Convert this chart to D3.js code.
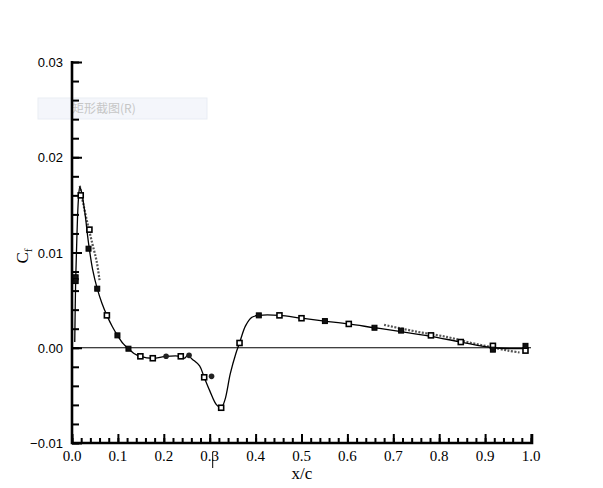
<!DOCTYPE html>
<html>
<head>
<meta charset="utf-8">
<script src="https://cdn.jsdelivr.net/npm/d3@7"></script>
<style>
  body { margin: 0; background: #fff; }
  svg { display: block; }
</style>
</head>
<body>
<div id="chart"></div>
<script>
// skin friction along the chord
var xCurve = [0.006, 0.008, 0.011, 0.014, 0.017, 0.021, 0.028, 0.036, 0.045, 0.055, 0.065, 0.076, 0.088, 0.099,
  0.112, 0.123, 0.135, 0.149, 0.176, 0.205, 0.237, 0.245, 0.252, 0.262, 0.278, 0.288, 0.300, 0.315, 0.325,
  0.333, 0.345, 0.357, 0.365, 0.378, 0.392, 0.407, 0.452, 0.500, 0.551, 0.603, 0.659, 0.717, 0.782, 0.847,
  0.917, 0.988];
var cfCurve = [0.0006, 0.0071, 0.0122, 0.0156, 0.0169, 0.0163, 0.0142, 0.0110, 0.0082, 0.0062, 0.0047, 0.0034, 0.0022, 0.0013,
  0.0004, -0.0001, -0.0006, -0.0009, -0.0011, -0.0009, -0.0009, -0.0011, -0.0008, -0.0012, -0.0019, -0.0031, -0.0045, -0.0060, -0.0063,
  -0.0055, -0.0027, -0.0006, 0.0005, 0.0023, 0.0032, 0.0034, 0.0034, 0.0031, 0.0028, 0.0025, 0.0021, 0.0017, 0.0012, 0.0006,
  0.0000, -0.0001];

// second run, drawn dashed where it separates from the first
var xDashLE = [0.017, 0.025, 0.035, 0.045, 0.054, 0.060];
var cfDashLE = [0.0170, 0.0150, 0.0128, 0.0108, 0.0090, 0.0071];
var xDashTE = [0.680, 0.750, 0.820, 0.870, 0.910, 0.950, 0.975];
var cfDashTE = [0.0024, 0.0017, 0.0011, 0.0005, 0.0001, -0.0003, -0.0005];

var xOpenSq = [0.019, 0.038, 0.076, 0.149, 0.176, 0.237, 0.288, 0.325, 0.365, 0.452, 0.500, 0.603, 0.782, 0.847, 0.917, 0.988];
var cfOpenSq = [0.0160, 0.0124, 0.0034, -0.0009, -0.0011, -0.0009, -0.0031, -0.0063, 0.0005, 0.0034, 0.0031, 0.0025, 0.0013, 0.0006, 0.0002, -0.0003];
var xFillSq = [0.008, 0.008, 0.036, 0.055, 0.099, 0.123, 0.407, 0.551, 0.659, 0.717, 0.917, 0.988];
var cfFillSq = [0.0074, 0.0070, 0.0104, 0.0062, 0.0013, -0.0001, 0.0034, 0.0028, 0.0021, 0.0018, -0.0002, 0.0002];
var xDot = [0.205, 0.255, 0.304];
var cfDot = [-0.0009, -0.0008, -0.0030];

var xTicks = [0, 0.1, 0.2, 0.3, 0.4, 0.5, 0.6, 0.7, 0.8, 0.9, 1.0];
var yTicks = [-0.01, 0, 0.01, 0.02, 0.03];

var width = 603,
    height = 488,
    plotL = 72, plotR = 531, plotT = 62, plotB = 443;

var x = d3.scaleLinear().domain([0, 1]).range([plotL, plotR]);
var y = d3.scaleLinear().domain([-0.01, 0.03]).range([plotB, plotT]);

var svg = d3.select('#chart').append('svg')
    .attr('width', width)
    .attr('height', height);

function pairs(xs, ys) {
    return xs.map(function (v, i) { return [v, ys[i]]; });
}

// leftover screen-capture tooltip
svg.append('rect')
    .attr('x', 38).attr('y', 98).attr('width', 169).attr('height', 21)
    .attr('fill', '#f4f6fb').attr('stroke', '#e9edf4');
svg.append('text')
    .attr('x', 72).attr('y', 113)
    .attr('font-family', 'Noto Sans CJK SC')
    .attr('font-size', 12)
    .attr('fill', '#c6c6c6')
    .text('矩形截图(R)');

// zero line
svg.append('line')
    .attr('x1', x(0)).attr('x2', x(1))
    .attr('y1', y(0)).attr('y2', y(0))
    .attr('stroke', '#000').attr('stroke-width', 1.2);

function thickTicks(g) {
    g.selectAll('.tick line').attr('stroke-width', 2);
    g.select('.domain').remove();
}

// axes, ticks pointing inward
svg.append('g').attr('transform', 'translate(0,' + plotB + ')')
    .call(d3.axisTop(x).ticks(50).tickSize(5).tickFormat(''))
    .call(thickTicks);
svg.append('g').attr('transform', 'translate(0,' + plotB + ')')
    .call(d3.axisTop(x).tickValues(xTicks).tickSize(9).tickFormat(''))
    .call(thickTicks);
svg.selectAll('.xlab').data(xTicks).enter().append('text')
    .attr('class', 'xlab')
    .attr('x', function (d) { return x(d); })
    .attr('y', 461)
    .attr('text-anchor', 'middle')
    .attr('font-family', 'Liberation Serif')
    .attr('font-size', 15)
    .text(function (d) { return d3.format('.1f')(d); });

svg.append('g').attr('transform', 'translate(' + plotL + ',0)')
    .call(d3.axisRight(y).ticks(20).tickSize(7).tickFormat(''))
    .call(thickTicks);
svg.append('g').attr('transform', 'translate(' + plotL + ',0)')
    .call(d3.axisRight(y).tickValues(yTicks).tickSize(10).tickFormat(''))
    .call(thickTicks);
svg.selectAll('.ylab').data(yTicks).enter().append('text')
    .attr('class', 'ylab')
    .attr('x', 63)
    .attr('y', function (d) { return y(d) + 5; })
    .attr('text-anchor', 'end')
    .attr('font-family', 'Liberation Sans')
    .attr('font-size', 13)
    .text(function (d) { return d3.format('.2f')(d); });

svg.append('path')
    .attr('d', 'M' + plotL + ',' + (plotT - 1) + 'V' + plotB + 'H' + (plotR + 1) + 'V' + (plotB - 9))
    .attr('fill', 'none').attr('stroke', '#000').attr('stroke-width', 2.6);

// axis titles
svg.append('text')
    .attr('x', 302).attr('y', 479)
    .attr('text-anchor', 'middle')
    .attr('font-family', 'Liberation Serif')
    .attr('font-size', 17)
    .text('x/c');
var cf = svg.append('text')
    .attr('transform', 'translate(28,256) rotate(-90)')
    .attr('text-anchor', 'middle')
    .attr('font-family', 'Liberation Serif')
    .attr('font-size', 17);
cf.append('tspan').text('C');
cf.append('tspan').attr('font-size', 11).attr('dy', 4).text('f');

// text cursor left in the capture
svg.append('line')
    .attr('x1', x(0.3) + 3).attr('x2', x(0.3) + 3)
    .attr('y1', 452).attr('y2', 468)
    .attr('stroke', '#000').attr('stroke-width', 1);

var line = d3.line()
    .x(function (d) { return x(d[0]); })
    .y(function (d) { return y(d[1]); })
    .curve(d3.curveCatmullRom.alpha(0.5));

[pairs(xDashLE, cfDashLE), pairs(xDashTE, cfDashTE)].forEach(function (pts) {
    svg.append('path')
        .datum(pts)
        .attr('d', line)
        .attr('fill', 'none')
        .attr('stroke', '#555')
        .attr('stroke-width', 2.2)
        .attr('stroke-dasharray', '2,1.5');
});

svg.append('path')
    .datum(pairs(xCurve, cfCurve))
    .attr('d', line)
    .attr('fill', 'none')
    .attr('stroke', '#000')
    .attr('stroke-width', 1.3);

svg.selectAll('.osq').data(pairs(xOpenSq, cfOpenSq)).enter().append('rect')
    .attr('class', 'osq')
    .attr('x', function (d) { return x(d[0]) - 2.5; })
    .attr('y', function (d) { return y(d[1]) - 2.5; })
    .attr('width', 5).attr('height', 5)
    .attr('fill', '#fff').attr('stroke', '#000').attr('stroke-width', 1.6);

svg.selectAll('.fsq').data(pairs(xFillSq, cfFillSq)).enter().append('rect')
    .attr('class', 'fsq')
    .attr('x', function (d) { return x(d[0]) - 2.5; })
    .attr('y', function (d) { return y(d[1]) - 2.5; })
    .attr('width', 5).attr('height', 5)
    .attr('fill', '#111').attr('stroke', '#000').attr('stroke-width', 1);

svg.selectAll('.dot').data(pairs(xDot, cfDot)).enter().append('circle')
    .attr('class', 'dot')
    .attr('cx', function (d) { return x(d[0]); })
    .attr('cy', function (d) { return y(d[1]); })
    .attr('r', 2.8)
    .attr('fill', '#222');
</script>
</body>
</html>
